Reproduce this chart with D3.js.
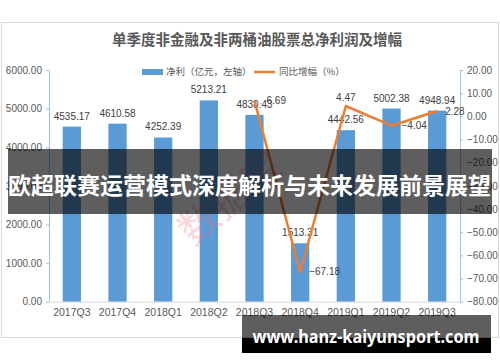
<!DOCTYPE html>
<html>
<head>
<meta charset="utf-8">
<script src="https://cdn.jsdelivr.net/npm/d3@7"></script>
<style>
  body { margin: 0; background: #fff; }
  svg { display: block; }
  text { font-family: "Noto Sans CJK SC", "Liberation Sans", sans-serif; }
</style>
</head>
<body>
<div id="chart"></div>
<script>
// 数据
const quarters = ["2017Q3", "2017Q4", "2018Q1", "2018Q2", "2018Q3", "2018Q4", "2019Q1", "2019Q2", "2019Q3"];
const netProfit = [4535.17, 4610.58, 4252.39, 5213.21, 4838.43, 1513.31, 4442.56, 5002.38, 4948.94];
const growth = [null, null, null, null, 6.69, -67.18, 4.47, -4.04, 2.28];
const leftTicks = [0, 1000, 2000, 3000, 4000, 5000, 6000];
const rightTicks = [20, 10, 0, -10, -20, -30, -40, -50, -60, -70, -80];

const width = 500, height = 362;
const margin = { top: 70, right: 40, bottom: 60.3, left: 49 };

const svg = d3.select("#chart").append("svg")
  .attr("width", width)
  .attr("height", height);

// 外框
svg.append("rect")
  .attr("x", 1.5).attr("y", 22.5)
  .attr("width", 497).attr("height", 315)
  .attr("fill", "#fff")
  .attr("stroke", "#d9d9d9");

// 标题
svg.append("text")
  .attr("x", 257).attr("y", 45)
  .attr("text-anchor", "middle")
  .attr("font-size", 14.5)
  .attr("font-weight", "bold")
  .attr("fill", "#595959")
  .text("单季度非金融及非两桶油股票总净利润及增幅");

// 比例尺
const x = d3.scaleBand()
  .domain(quarters)
  .range([margin.left, width - margin.right])
  .paddingInner(0.6)
  .paddingOuter(0.3);

const yLeft = d3.scaleLinear()
  .domain([0, 6000])
  .range([height - margin.bottom, margin.top]);

const yRight = d3.scaleLinear()
  .domain([-80, 20])
  .range([height - margin.bottom, margin.top]);

const fmt = d3.format(".2f");

// 左轴
const gLeft = svg.append("g")
  .attr("transform", `translate(${margin.left},0)`)
  .call(d3.axisLeft(yLeft).tickValues(leftTicks).tickFormat(fmt).tickSize(3).tickSizeOuter(0).tickPadding(4));

// 右轴
const gRight = svg.append("g")
  .attr("transform", `translate(${width - margin.right},0)`)
  .call(d3.axisRight(yRight).tickValues(rightTicks).tickFormat(fmt).tickSize(3).tickSizeOuter(0).tickPadding(4));

[gLeft, gRight].forEach(g => {
  g.select(".domain").attr("stroke", "#9dc3e6");
  g.selectAll(".tick line").attr("stroke", "#9dc3e6");
  g.selectAll(".tick text")
    .attr("fill", "#595959")
    .attr("font-size", 10)
    .style("font-family", "Liberation Sans, sans-serif");
});

// 柱子
svg.append("g")
  .selectAll("rect")
  .data(netProfit)
  .join("rect")
  .attr("x", (d, i) => x(quarters[i]))
  .attr("y", d => yLeft(d))
  .attr("width", x.bandwidth())
  .attr("height", d => yLeft(0) - yLeft(d))
  .attr("fill", "#5b9bd5");

// 底轴
const gBottom = svg.append("g")
  .attr("transform", `translate(0,${height - margin.bottom})`)
  .call(d3.axisBottom(x).tickSize(0).tickPadding(7));
gBottom.select(".domain").attr("stroke", "#d9d9d9");
gBottom.selectAll(".tick text")
  .attr("fill", "#595959")
  .attr("font-size", 10.5)
  .style("font-family", "Liberation Sans, sans-serif");

// 柱子数值
svg.append("g")
  .selectAll("text")
  .data(netProfit)
  .join("text")
  .attr("x", (d, i) => x(quarters[i]) + x.bandwidth() / 2)
  .attr("y", d => yLeft(d) - 7)
  .attr("text-anchor", "middle")
  .attr("font-size", 10)
  .attr("fill", "#404040")
  .style("font-family", "Liberation Sans, sans-serif")
  .text(d => fmt(d));

// 折线
const cx = i => x(quarters[i]) + x.bandwidth() / 2;
const line = d3.line()
  .defined(d => d != null)
  .x((d, i) => cx(i))
  .y(d => yRight(d));

svg.append("path")
  .datum(growth)
  .attr("d", line)
  .attr("fill", "none")
  .attr("stroke", "#ed7d31")
  .attr("stroke-width", 2.5)
  .attr("stroke-linejoin", "round");

// 折线数值（位置偏移）
const lineLabelOffset = [null, null, null, null, [12, -0.5, "start"], [9, 0, "start"], [0, -8, "middle"], [10, 0, "start"], [8, 0, "start"]];
svg.append("g")
  .selectAll("text")
  .data(growth.map((v, i) => ({ v, i })).filter(d => d.v != null))
  .join("text")
  .attr("x", d => cx(d.i) + lineLabelOffset[d.i][0])
  .attr("y", d => yRight(d.v) + lineLabelOffset[d.i][1])
  .attr("dy", "0.35em")
  .attr("text-anchor", d => lineLabelOffset[d.i][2])
  .attr("font-size", 10)
  .attr("fill", "#404040")
  .style("font-family", "Liberation Sans, sans-serif")
  .text(d => fmt(d.v));

// 6.69 引导线
svg.append("line")
  .attr("x1", cx(4) + 1).attr("x2", cx(4) + 10)
  .attr("y1", yRight(growth[4]) + 3).attr("y2", yRight(growth[4]) + 3)
  .attr("stroke", "#bfbfbf");

// 图例
const legend = svg.append("g").attr("font-size", 9.5).attr("fill", "#595959");
legend.append("rect").attr("x", 142).attr("y", 69).attr("width", 21).attr("height", 6).attr("fill", "#5b9bd5");
legend.append("text").attr("x", 166).attr("y", 72).attr("dy", "0.35em").attr("fill", "#595959").text("净利（亿元，左轴）");
legend.append("line").attr("x1", 254).attr("x2", 275).attr("y1", 72).attr("y2", 72).attr("stroke", "#ed7d31").attr("stroke-width", 2.5);
legend.append("text").attr("x", 279).attr("y", 72).attr("dy", "0.35em").attr("fill", "#595959").text("同比增幅（%）");

// 水印
svg.append("text")
  .attr("transform", "translate(230,198) rotate(-40)")
  .attr("text-anchor", "middle")
  .attr("dy", "0.35em")
  .attr("font-size", 40)
  .attr("fill", "rgba(240,110,130,0.28)")
  .text("数据宝");

// 横幅
svg.append("rect")
  .attr("x", 8).attr("y", 149)
  .attr("width", 484).attr("height", 65)
  .attr("fill", "rgba(0,0,0,0.63)");
svg.append("text")
  .attr("x", 8).attr("y", 186)
  .attr("dy", "0.35em")
  .attr("font-size", 23)
  .attr("font-weight", "bold")
  .attr("fill", "#fff")
  .attr("textLength", 483)
  .attr("lengthAdjust", "spacingAndGlyphs")
  .text("欧超联赛运营模式深度解析与未来发展前景展望");

// 右下角网址
svg.append("rect")
  .attr("x", 242).attr("y", 315)
  .attr("width", 249).attr("height", 23)
  .attr("fill", "rgba(0,0,0,0.63)");
svg.append("rect")
  .attr("x", 242).attr("y", 338)
  .attr("width", 249).attr("height", 15)
  .attr("fill", "#000");
svg.append("text")
  .attr("x", 366).attr("y", 343)
  .attr("text-anchor", "middle")
  .attr("font-size", 17)
  .attr("font-weight", "bold")
  .attr("fill", "#fff")
  .attr("textLength", 227)
  .attr("lengthAdjust", "spacingAndGlyphs")
  .style("font-family", "Noto Sans, sans-serif")
  .text("www.hanz-kaiyunsport.com");
</script>
</body>
</html>
